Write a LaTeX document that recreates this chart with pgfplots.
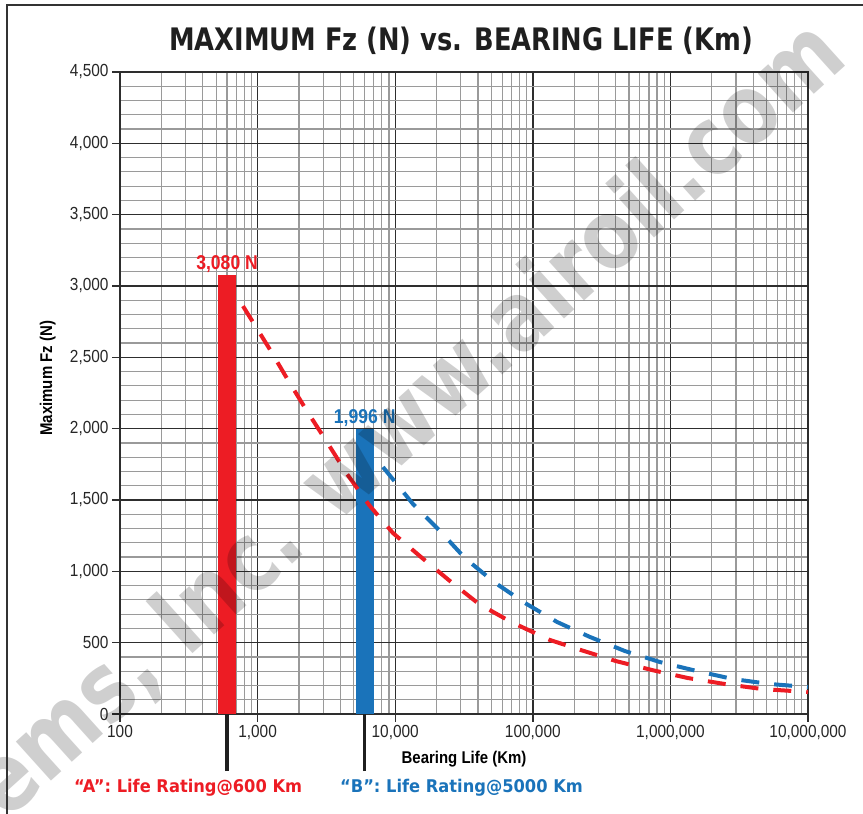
\documentclass[border=0pt]{standalone}
\usepackage{fontspec}
\setmainfont{Liberation Sans}
\newfontfamily\narrowfont[FakeStretch=0.88]{Liberation Sans}
\newfontfamily\titlefont[FakeStretch=0.83]{DejaVu Sans}
\newfontfamily\notefont[FakeStretch=0.93]{DejaVu Sans}
\usepackage{pgfplots}
\pgfplotsset{compat=1.18}

\definecolor{barred}{HTML}{ED1C24}
\definecolor{barblue}{HTML}{1A73BA}
\definecolor{gridmajor}{HTML}{2E2E2E}
\definecolor{gridminor}{HTML}{9A9A9A}

\begin{document}
\begin{tikzpicture}[x=1bp,y=1bp]
\path[use as bounding box] (0,0) rectangle (863,814);

\begin{axis}[
    at={(120bp,100bp)}, anchor=south west,
    width=688bp, height=642bp, scale only axis,
    xmode=log, xmin=100, xmax=1e7,
    ymin=0, ymax=4500,
    xtick={100,1000,10000,100000,1000000,10000000},
    xticklabels={100,{1,000},{10,000},{100,000},{1,000,000},{10,000,000}},
    minor xtick={200,300,400,500,600,700,800,900,
                 2000,3000,4000,5000,6000,7000,8000,9000,
                 2e4,3e4,4e4,5e4,6e4,7e4,8e4,9e4,
                 2e5,3e5,4e5,5e5,6e5,7e5,8e5,9e5,
                 2e6,3e6,4e6,5e6,6e6,7e6,8e6,9e6},
    ytick={0,500,...,4500},
    minor y tick num=4,
    scaled y ticks=false,
    /pgf/number format/assume math mode=true,
    grid=both,
    major grid style={gridmajor, line width=1.4bp},
    minor grid style={gridminor, line width=1.2bp},
    axis line style={gridmajor, line width=1.5bp},
    tick pos=left, tick align=outside,
    major tick length=8bp, minor tick length=0pt,
    tick style={gridmajor, line width=1.4bp},
    ticklabel style={font=\narrowfont\fontsize{17.5bp}{20bp}\selectfont, text=black!85},
    extra x ticks={600,6000},
    extra x tick labels={},
    extra x tick style={grid=none, major tick length=57bp,
        tick style={black!88, line width=3.4bp}},
    xlabel={Bearing Life (Km)},
    ylabel={Maximum Fz (N)},
    xlabel style={font=\narrowfont\bfseries\fontsize{17bp}{20bp}\selectfont,
        at={(axis description cs:0.5,0)}, anchor=center, yshift=-45bp},
    ylabel style={font=\narrowfont\bfseries\fontsize{17bp}{20bp}\selectfont,
        at={(axis description cs:-0.105,0.523)}, anchor=center},
]

% bars at the two rated lives
\addplot[ybar, bar width=18bp, fill=barred, draw=none,
    nodes near coords={3,080 N},
    nodes near coords style={font=\narrowfont\bfseries\fontsize{20bp}{22bp}\selectfont,
        text=barred, anchor=south, inner sep=2bp}]
    coordinates {(600,3080)};
\addplot[ybar, bar width=18bp, fill=barblue, draw=none,
    nodes near coords={1,996 N},
    nodes near coords style={font=\narrowfont\bfseries\fontsize{20bp}{22bp}\selectfont,
        text=barblue, anchor=south, inner sep=2bp}]
    coordinates {(6000,1996)};

% "A" curve
\addplot[barred, line width=4bp, dash pattern=on 18bp off 15bp] coordinates {
    (783,2859) (1211,2565) (1663,2340) (2286,2123) (3192,1906) (4467,1682)
    (6457,1465) (9640,1268) (15400,1100) (25000,932) (40600,771) (69500,645)
    (133000,519) (224000,448) (402000,371) (735000,308) (1340000,252)
    (2490000,210) (4640000,175) (10000000,154)
};

% "B" curve
\addplot[barblue, line width=4bp, dash pattern=on 18bp off 15bp] coordinates {
    (8150,1731) (13460,1472) (21200,1282) (32100,1093) (52200,925) (87700,778)
    (150000,645) (260000,540) (468000,441) (840000,364) (1560000,301)
    (2850000,245) (5300000,210) (10000000,189)
};
\end{axis}

\node[font=\titlefont\bfseries\fontsize{31bp}{34bp}\selectfont, text=black!88, anchor=base]
    at (461,763) {MAXIMUM Fz (N) vs. BEARING LIFE (Km)};

\node[font=\notefont\bfseries\fontsize{17.5bp}{20bp}\selectfont, text=barred, anchor=base west, inner sep=0pt]
    at (74,21) {“A”: Life Rating@600 Km};
\node[font=\notefont\bfseries\fontsize{17.5bp}{20bp}\selectfont, text=barblue, anchor=base west, inner sep=0pt]
    at (340,21) {“B”: Life Rating@5000 Km};

% watermark
\node[font=\titlefont\bfseries\fontsize{96bp}{98bp}\selectfont, text=black, text opacity=0.19,
    rotate=42, anchor=base east, inner sep=0pt]
    at (850,752) {ems, Inc. www.airoil.com};

% outer frame
\draw[black!80, line width=1.4bp] (7,-5) -- (7,809) -- (870,809);
\end{tikzpicture}
\end{document}
